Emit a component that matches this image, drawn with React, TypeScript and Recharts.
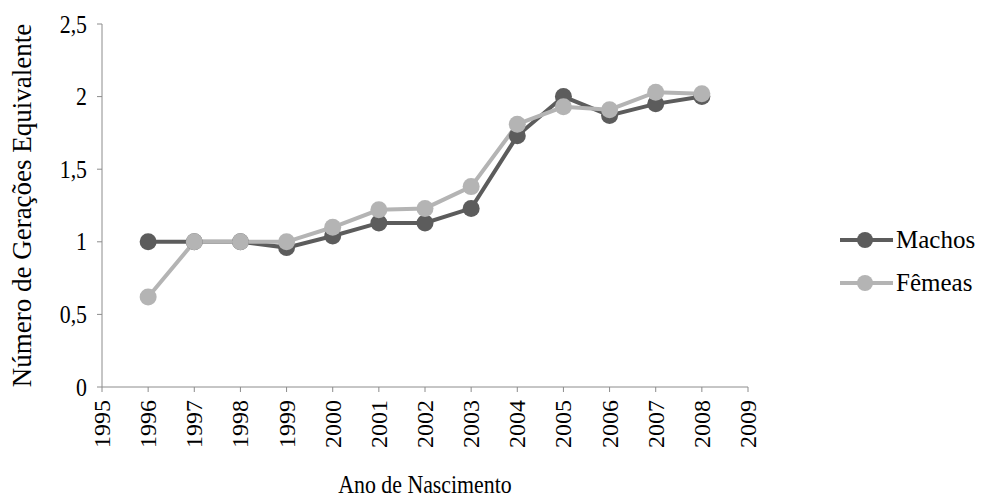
import React from "react";
import { LineChart, Line, XAxis, YAxis } from "recharts";

const anos = [1996, 1997, 1998, 1999, 2000, 2001, 2002, 2003, 2004, 2005, 2006, 2007, 2008];
const machos = [1.0, 1.0, 1.0, 0.96, 1.04, 1.13, 1.13, 1.23, 1.73, 2.0, 1.87, 1.95, 2.0];
const femeas = [0.62, 1.0, 1.0, 1.0, 1.1, 1.22, 1.23, 1.38, 1.81, 1.93, 1.91, 2.03, 2.02];
const xTicks = [1995, 1996, 1997, 1998, 1999, 2000, 2001, 2002, 2003, 2004, 2005, 2006, 2007, 2008, 2009];
const yTicks = [0, 0.5, 1, 1.5, 2, 2.5];

const FONT = '"Liberation Serif", "Times New Roman", serif';
const DARK = "#5c5c5c";
const LIGHT = "#b4b4b4";
const AXIS = "#8c8c8c";
// horizontal text is a little condensed
const SQUEEZE = 0.84;

const rows = anos.map((ano, i) => ({ ano, machos: machos[i], femeas: femeas[i] }));

// year labels read bottom-to-top under each tick
const YearTick = ({ x, y, payload }: any) => (
  <text
    transform={`translate(${x},${y + 6}) rotate(-90)`}
    textAnchor="end"
    dominantBaseline="central"
    style={{ fontFamily: FONT, fontSize: 24 }}
    fill="#000"
  >
    {payload.value}
  </text>
);

const ValueTick = ({ x, y, payload }: any) => (
  <text
    transform={`translate(${x},${y}) scale(${SQUEEZE},1)`}
    textAnchor="end"
    dominantBaseline="central"
    style={{ fontFamily: FONT, fontSize: 26 }}
    fill="#000"
  >
    {String(payload.value).replace(".", ",")}
  </text>
);

const XTitle = ({ viewBox }: any) => (
  <text
    transform={`translate(${viewBox.x + viewBox.width / 2},${viewBox.y + viewBox.height - 4}) scale(${SQUEEZE},1)`}
    textAnchor="middle"
    style={{ fontFamily: FONT, fontSize: 26 }}
    fill="#000"
  >
    Ano de Nascimento
  </text>
);

const YTitle = ({ viewBox }: any) => (
  <text
    transform={`translate(22,${viewBox.y + viewBox.height / 2}) rotate(-90)`}
    textAnchor="middle"
    dominantBaseline="central"
    style={{ fontFamily: FONT, fontSize: 27 }}
    fill="#000"
  >
    Número de Gerações Equivalente
  </text>
);

const legendItems = [
  { label: "Machos", color: DARK },
  { label: "Fêmeas", color: LIGHT },
];

const SeriesLegend = () => (
  <div
    style={{
      position: "absolute",
      left: 840,
      top: 218,
      fontFamily: FONT,
      fontSize: 25,
      color: "#000",
    }}
  >
    {legendItems.map((it) => (
      <div key={it.label} style={{ display: "flex", alignItems: "center", height: 43 }}>
        <svg width={53} height={20} style={{ marginRight: 3 }}>
          <line x1={0} y1={10} x2={53} y2={10} stroke={it.color} strokeWidth={4} />
          <circle cx={25} cy={10} r={8} fill={it.color} />
        </svg>
        <span>{it.label}</span>
      </div>
    ))}
  </div>
);

export default function App() {
  return (
    <div style={{ position: "absolute", left: 0, top: 0, width: 981, height: 497, background: "#fff" }}>
      <LineChart
        width={981}
        height={497}
        data={rows}
        margin={{ top: 24, right: 233, bottom: 0, left: 0 }}
      >
        <XAxis
          dataKey="ano"
          type="number"
          domain={[1995, 2009]}
          ticks={xTicks}
          interval={0}
          height={110}
          stroke={AXIS}
          tickSize={5}
          tick={<YearTick />}
          label={{ content: <XTitle /> }}
        />
        <YAxis
          domain={[0, 2.5]}
          ticks={yTicks}
          width={102}
          stroke={AXIS}
          tickSize={5}
          tickMargin={10}
          tick={<ValueTick />}
          label={{ content: <YTitle /> }}
        />
        <Line
          dataKey="machos"
          name="Machos"
          stroke={DARK}
          strokeWidth={4}
          dot={{ r: 8.5, fill: DARK, stroke: DARK, strokeWidth: 0 }}
          activeDot={false}
          isAnimationActive={false}
        />
        <Line
          dataKey="femeas"
          name="Fêmeas"
          stroke={LIGHT}
          strokeWidth={4}
          dot={{ r: 8.5, fill: LIGHT, stroke: LIGHT, strokeWidth: 0 }}
          activeDot={false}
          isAnimationActive={false}
        />
      </LineChart>
      <SeriesLegend />
    </div>
  );
}
